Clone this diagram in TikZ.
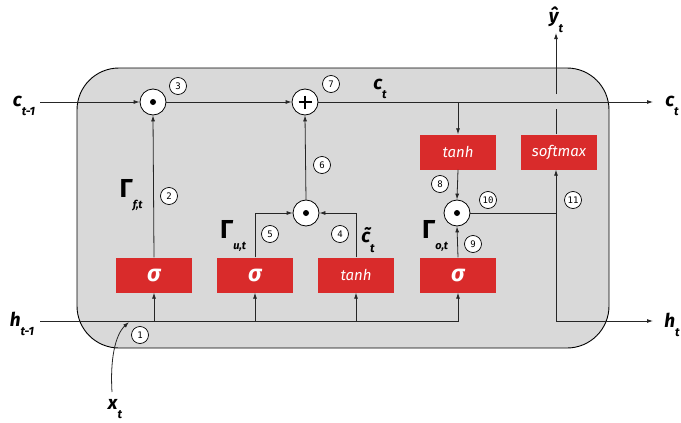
\documentclass[tikz,border=0pt]{standalone}
\usepackage{fontspec}
\setmainfont{Fira Sans}
\newfontfamily\numfont{DejaVu Sans Mono}
\usetikzlibrary{arrows.meta,calc}
\definecolor{cellgray}{RGB}{217,217,217}
\definecolor{gatered}{RGB}{217,43,43}
\newcommand\lblsub[2]{#1\raisebox{-0.5em}{\fontsize{12}{12}\selectfont #2}}
\newcommand\gam[1]{{\fontsize{26}{26}\selectfont\upshape Γ}\raisebox{-0.6em}{\fontsize{11}{11}\selectfont #1}}
\begin{document}
\begin{tikzpicture}[x=1pt,y=-1pt,
  gate/.style={fill=gatered, minimum width=76pt, minimum height=35pt, text=white, inner sep=0},
  gtxt/.style={font=\itshape\fontsize{15}{15}\selectfont},
  gsig/.style={font=\bfseries\itshape\fontsize{23}{23}\selectfont},
  op/.style={circle, draw, fill=white, minimum size=26pt, inner sep=0, line width=0.8pt},
  num/.style={circle, draw, fill=white, minimum size=17pt, inner sep=0, line width=0.7pt, font=\numfont\fontsize{9}{9}\selectfont},
  conn/.style={line width=0.8pt, draw=black!85},
  arr/.style={conn, -{Latex[length=6pt,width=4pt]}},
  lbl/.style={font=\bfseries\itshape\fontsize{19}{19}\selectfont, inner sep=0}
]
\useasboundingbox (0,0) rectangle (681,423);
% cell
\draw[fill=cellgray, line width=0.9pt, rounded corners=42pt] (77,68) rectangle (609,348);

% operators
\node[op] (circ3) at (153,102) {};
\node[op] (plus) at (305,102) {};
\node[op] (odotU) at (306,213) {};
\node[op] (odotO) at (457,213) {};
\fill (circ3) circle (3);
\fill (odotU) circle (3);
\fill (odotO) circle (3);
\draw[line width=1.8pt] ($(plus)+(-6.5,0)$) -- ($(plus)+(6.5,0)$);
\draw[line width=1.8pt] ($(plus)+(0,-6.5)$) -- ($(plus)+(0,6.5)$);

% gates
\node[gate, gsig] (sigF) at (154,275) {σ};
\node[gate, gsig] (sigU) at (255,275) {σ};
\node[gate, gtxt] (tanhC) at (356,275) {tanh};
\node[gate, gsig] (sigO) at (458,275) {σ};
\node[gate, gtxt] (tanhO) at (458,152) {tanh};
\node[gate, gtxt] (soft) at (559,152) {softmax};

% coordinates
\coordinate (cin) at (40,102);
\coordinate (cout) at (653,102);
\coordinate (hin) at (40,321);
\coordinate (hout) at (653,321);
\coordinate (hsplit) at (556,321);
\coordinate (ojoin) at (556,213);
\coordinate (gapLo) at (556,109);
\coordinate (gapHi) at (556,94);
\coordinate (yout) at (556,33);
\coordinate (xstart) at (112,392);
\coordinate (xend) at (129,322);

% c line
\draw[arr] (cin) -- (circ3.west);
\draw[arr] (circ3.east) -- (plus.west);
\draw[arr] (plus.east) -- (cout);
\draw[arr] (tanhO.north |- cout) -- (tanhO.north);

% forget
\draw[arr] (sigF.north) -- (circ3.south);
% update
\draw[arr] (sigU.north) |- (odotU.west);
\draw[arr] (tanhC.north) |- (odotU.east);
\draw[arr] (odotU.north) -- (plus.south);
% output
\draw[arr] (tanhO.south) -- (odotO.north);
\draw[arr] (sigO.north) -- (odotO.south);
\draw[conn] (odotO.east) -- (ojoin);

% h line
\draw[arr] (hin) -| (sigO.south);
\draw[arr] (sigF.south |- hin) -- (sigF.south);
\draw[arr] (sigU.south |- hin) -- (sigU.south);
\draw[arr] (tanhC.south |- hin) -- (tanhC.south);

% output h / y
\draw[arr] (hsplit) -- (hsplit |- soft.south);
\draw[arr] (hsplit) -- (hout);
\draw[conn] (hsplit |- soft.north) -- (gapLo);
\draw[arr] (gapHi) -- (yout);

% x input
\draw[arr] (xstart) .. controls (110,360) and (115,335) .. (xend);

% labels
\node[lbl] (lc1) at (24,106) {\lblsub{c}{t-1}};
\node[lbl] (lh1) at (22,324) {\lblsub{h}{t-1}};
\node[lbl] (lx) at (115,409) {\lblsub{x}{t}};
\node[lbl] (lct) at (380,89) {\lblsub{c}{t}};
\node[lbl] (lcout) at (672,106) {\lblsub{c}{t}};
\node[lbl] (lhout) at (672,325) {\lblsub{h}{t}};
\node[lbl] (ly) at (556,20) {\lblsub{ŷ}{t}};
\node[lbl] (lct2) at (368,240) {\lblsub{\~{c}}{t}};
\node[lbl] (gf) at (131,195) {\gam{f,t}};
\node[lbl] (gu) at (233,236) {\gam{u,t}};
\node[lbl] (go) at (435,236) {\gam{o,t}};

% numbers
\node[num] (n1) at (140,335) {1};
\node[num] (n2) at (169,196) {2};
\node[num] (n3) at (178,86) {3};
\node[num] (n4) at (340,234) {4};
\node[num] (n5) at (270,234) {5};
\node[num] (n6) at (322,165) {6};
\node[num] (n7) at (331,84) {7};
\node[num] (n8) at (440,184) {8};
\node[num] (n9) at (473,244) {9};
\node[num] (n10) at (488,200) {10};
\node[num] (n11) at (573,200) {11};
\end{tikzpicture}
\end{document}
